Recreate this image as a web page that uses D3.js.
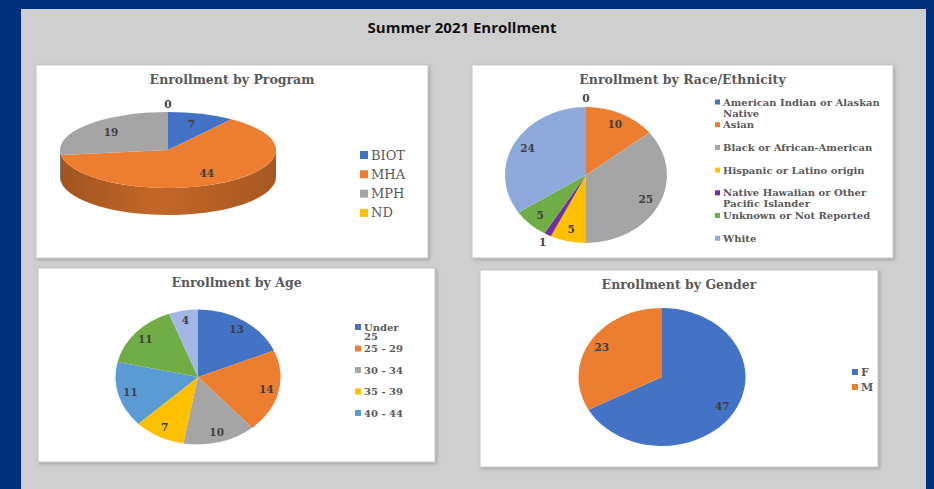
<!DOCTYPE html>
<html>
<head>
<meta charset="utf-8">
<script src="https://cdn.jsdelivr.net/npm/d3@7"></script>
<style>
    body { margin: 0; background: #00307a; }
</style>
</head>
<body>
<div id="svgContainer"></div>
<script>
// chart data
const programNames = ["BIOT", "MHA", "MPH", "ND"];
const programCounts = [7, 44, 19, 0];

const raceNames = ["American Indian or Alaskan Native", "Asian", "Black or African-American",
    "Hispanic or Latino origin", "Native Hawaiian or Other Pacific Islander",
    "Unknown or Not Reported", "White"];
const raceCounts = [0, 10, 25, 5, 1, 5, 24];

const ageNames = ["Under 25", "25 - 29", "30 - 34", "35 - 39", "40 - 44", "45 - 49", "50 +"];
const ageCounts = [13, 14, 10, 7, 11, 11, 4];

const genderNames = ["F", "M"];
const genderCounts = [47, 23];

var width = 934,
    height = 489;

const serif = "'DejaVu Serif', serif";

var svg = d3.select("#svgContainer").append("svg")
    .attr("width", width)
    .attr("height", height)
    .style("display", "block");

var defs = svg.append("defs");
defs.append("filter")
    .attr("id", "shadow")
    .attr("x", "-5%").attr("y", "-5%")
    .attr("width", "110%").attr("height", "110%")
    .append("feDropShadow")
    .attr("dx", 1.5).attr("dy", 1.5)
    .attr("stdDeviation", 1.5)
    .attr("flood-color", "#7a7a7a")
    .attr("flood-opacity", 0.5);

svg.append("rect")
    .attr("width", width).attr("height", height)
    .attr("fill", "#00307a");
svg.append("rect")
    .attr("x", 21).attr("y", 9)
    .attr("width", 905).attr("height", height - 9)
    .attr("fill", "#d0cfd0");

svg.append("text")
    .attr("x", 462).attr("y", 28)
    .attr("dy", "0.35em")
    .attr("text-anchor", "middle")
    .attr("font-family", "'Open Sans', sans-serif")
    .attr("font-weight", "bold")
    .attr("font-size", 15)
    .attr("fill", "#111")
    .text("Summer 2021 Enrollment");

// layout of the four panels
const panels = [
    {x: 36, y: 65, w: 392, h: 193, title: "Enrollment by Program",
     names: programNames, values: programCounts,
     colors: ["#4472c4", "#ed7d31", "#a5a5a5", "#ffc000"],
     cx: 132, cy: 85, rx: 108, ry: 38, depth: 27, labelK: 0.7,
     legend: {x: 324, y: 90, step: 19.3, size: 8, font: 13, bold: false, wrap: 200, lineH: 14, count: 4}},
    {x: 472, y: 65, w: 421, h: 193, title: "Enrollment by Race/Ethnicity",
     names: raceNames, values: raceCounts,
     colors: ["#4472c4", "#ed7d31", "#a5a5a5", "#ffc000", "#7030a0", "#70ad47", "#8eaadc"],
     cx: 114, cy: 110, rx: 81, ry: 68, depth: 0, labelK: 0.82,
     legend: {x: 243, y: 37, step: 22.7, size: 5, font: 10, bold: true, wrap: 172, lineH: 11, count: 7}},
    {x: 38, y: 268, w: 397, h: 194, title: "Enrollment by Age",
     names: ageNames, values: ageCounts,
     colors: ["#4472c4", "#ed7d31", "#a5a5a5", "#ffc000", "#5b9bd5", "#70ad47", "#a2b7e6"],
     cx: 160, cy: 109, rx: 82.5, ry: 67.5, depth: 0, labelK: 0.85,
     // the legend box only has room for the first five entries
     legend: {x: 317, y: 59, step: 21.5, size: 6, font: 10, bold: true, wrap: 45, lineH: 9.5, count: 5}},
    {x: 480, y: 270, w: 398, h: 197, title: "Enrollment by Gender",
     names: genderNames, values: genderCounts,
     colors: ["#4472c4", "#ed7d31"],
     cx: 182, cy: 107, rx: 83.5, ry: 69, depth: 0, labelK: 0.84,
     legend: {x: 372, y: 102, step: 15, size: 6, font: 11, bold: true, wrap: 100, lineH: 12, count: 2}}
];

wrapText = (textEl, str, maxW, lineH) => {
    const words = str.split(" ");
    let line = [];
    let tspan = textEl.append("tspan").attr("x", 0).attr("dy", "0.35em");
    words.forEach(w => {
        line.push(w);
        tspan.text(line.join(" "));
        if (tspan.node().getComputedTextLength() > maxW && line.length > 1) {
            line.pop();
            tspan.text(line.join(" "));
            line = [w];
            tspan = textEl.append("tspan").attr("x", 0).attr("dy", lineH).text(w);
        }
    });
};

drawPanel = (p, idx) => {
    const g = svg.append("g").attr("transform", `translate(${p.x},${p.y})`);

    g.append("rect")
        .attr("width", p.w).attr("height", p.h)
        .attr("fill", "#fff")
        .attr("stroke", "#c8c8c8")
        .attr("filter", "url(#shadow)");

    g.append("text")
        .attr("x", p.w / 2).attr("y", 15)
        .attr("dy", "0.35em")
        .attr("text-anchor", "middle")
        .attr("font-family", serif)
        .attr("font-weight", "bold")
        .attr("font-size", 12.5)
        .attr("fill", "#595959")
        .text(p.title);

    const data = p.names.map((n, i) => ({name: n, value: p.values[i], color: p.colors[i]}));
    const total = d3.sum(p.values);
    const arcs = d3.pie().sort(null).value(d => d.value)(data);
    const arc = d3.arc().innerRadius(0).outerRadius(p.rx);
    const pt = (a, dy) => [p.cx + p.rx * Math.sin(a), p.cy - p.ry * Math.cos(a) + (dy || 0)];

    // 3d side wall (front half only)
    if (p.depth > 0) {
        arcs.forEach((d, i) => {
            const a0 = Math.max(d.startAngle, Math.PI / 2),
                  a1 = Math.min(d.endAngle, 3 * Math.PI / 2);
            if (a1 <= a0) return;
            const gid = "side" + idx + "_" + i;
            const base = d3.color(d.data.color);
            const grad = defs.append("linearGradient")
                .attr("id", gid)
                .attr("gradientUnits", "userSpaceOnUse")
                .attr("x1", p.cx - p.rx).attr("x2", p.cx + p.rx)
                .attr("y1", 0).attr("y2", 0);
            grad.append("stop").attr("offset", "0%").attr("stop-color", base.darker(1.1));
            grad.append("stop").attr("offset", "45%").attr("stop-color", base.darker(0.55));
            grad.append("stop").attr("offset", "100%").attr("stop-color", base.darker(1.0));
            const s0 = pt(a0), s1 = pt(a1), b0 = pt(a0, p.depth), b1 = pt(a1, p.depth);
            g.append("path")
                .attr("d", `M${s0}A${p.rx},${p.ry} 0 0 1 ${s1}L${b1}A${p.rx},${p.ry} 0 0 0 ${b0}Z`)
                .attr("fill", `url(#${gid})`);
        });
    }

    g.append("g")
        .attr("transform", `translate(${p.cx},${p.cy}) scale(1,${p.ry / p.rx})`)
        .selectAll("path")
        .data(arcs)
        .enter().append("path")
        .attr("d", arc)
        .attr("fill", d => d.data.color);

    g.append("g")
        .selectAll("text")
        .data(arcs)
        .enter().append("text")
        .attr("x", d => {
            const k = d.value / total < 0.02 ? 1.13 : p.labelK;
            return p.cx + k * p.rx * Math.sin((d.startAngle + d.endAngle) / 2);
        })
        .attr("y", d => {
            const k = d.value / total < 0.02 ? (p.depth > 0 ? 1.2 : 1.13) : p.labelK;
            return p.cy - k * p.ry * Math.cos((d.startAngle + d.endAngle) / 2);
        })
        .attr("dy", "0.35em")
        .attr("text-anchor", "middle")
        .attr("font-family", serif)
        .attr("font-weight", "bold")
        .attr("font-size", 10.5)
        .attr("fill", "#404040")
        .text(d => d.value);

    // legend
    const L = p.legend;
    const item = g.append("g")
        .selectAll("g")
        .data(data.slice(0, L.count))
        .enter().append("g")
        .attr("transform", (d, i) => `translate(${L.x},${L.y + i * L.step})`);

    item.append("rect")
        .attr("x", 0).attr("y", -L.size / 2)
        .attr("width", L.size).attr("height", L.size)
        .attr("fill", d => d.color);

    item.append("text")
        .attr("transform", `translate(${L.size + 3},0)`)
        .attr("font-family", serif)
        .attr("font-weight", L.bold ? "bold" : "normal")
        .attr("font-size", L.font)
        .attr("fill", "#595959")
        .each(function(d) { wrapText(d3.select(this), d.name, L.wrap, L.lineH); });
};

panels.forEach(drawPanel);
</script>
</body>
</html>
